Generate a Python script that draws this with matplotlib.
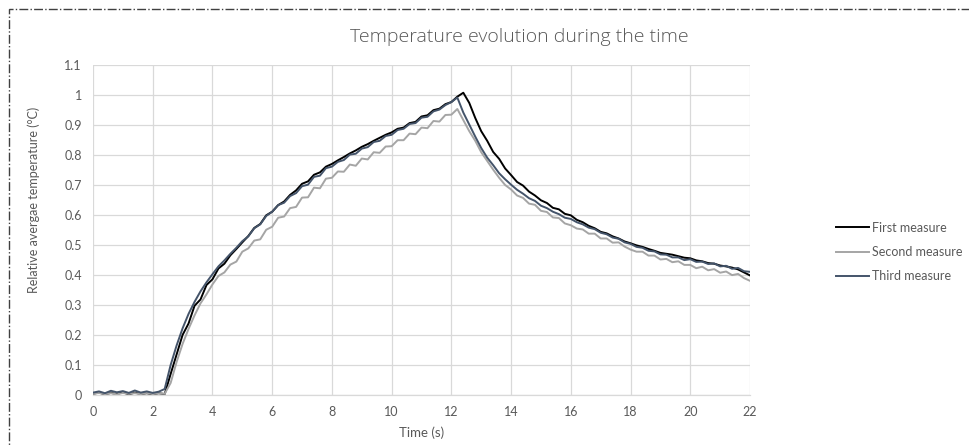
import numpy as np
import matplotlib
matplotlib.use("Agg")
import matplotlib.pyplot as plt
from matplotlib.patches import Rectangle

plt.rcParams['font.family'] = ['Lato', 'DejaVu Sans']

# ---- data ----
time_s = np.round(np.linspace(0, 22, 111), 1)

first_measure = [
    0.004, 0.008, 0.002, 0.007, 0.003, 0.009, 0.002, 0.008, 0.003, 0.006,
    0.002, 0.006, 0.003, 0.07, 0.135, 0.2, 0.238, 0.297, 0.318, 0.366,
    0.385, 0.421, 0.437, 0.465, 0.486, 0.508, 0.529, 0.556, 0.569, 0.598,
    0.61, 0.632, 0.644, 0.666, 0.681, 0.703, 0.711, 0.733, 0.741, 0.76,
    0.769, 0.781, 0.792, 0.804, 0.814, 0.826, 0.835, 0.846, 0.856, 0.866,
    0.874, 0.886, 0.89, 0.905, 0.909, 0.927, 0.931, 0.948, 0.953, 0.968,
    0.975, 0.993, 1.006, 0.972, 0.922, 0.878, 0.846, 0.809, 0.786, 0.754,
    0.732, 0.709, 0.697, 0.677, 0.664, 0.648, 0.639, 0.623, 0.618, 0.603,
    0.598, 0.583, 0.575, 0.563, 0.555, 0.543, 0.538, 0.528, 0.521, 0.511,
    0.505, 0.498, 0.493, 0.486, 0.48, 0.473, 0.47, 0.467, 0.462, 0.457,
    0.455, 0.448, 0.445, 0.439, 0.437, 0.431, 0.428, 0.424, 0.418, 0.408,
    0.398,
]

second_measure = [
    0.004, 0.007, 0.003, 0.006, 0.002, 0.007, 0.004, 0.006, 0.003, 0.007,
    0.003, 0.006, 0.004, 0.04, 0.11, 0.17, 0.22, 0.265, 0.305, 0.335,
    0.368, 0.396, 0.408, 0.434, 0.444, 0.477, 0.488, 0.514, 0.518, 0.55,
    0.56, 0.59, 0.594, 0.622, 0.626, 0.657, 0.658, 0.69, 0.688, 0.72,
    0.723, 0.744, 0.743, 0.767, 0.763, 0.787, 0.784, 0.808, 0.806, 0.827,
    0.828, 0.848, 0.848, 0.87, 0.868, 0.89, 0.888, 0.912, 0.91, 0.932,
    0.933, 0.952, 0.915, 0.878, 0.846, 0.808, 0.779, 0.75, 0.723, 0.699,
    0.684, 0.664, 0.656, 0.637, 0.633, 0.613, 0.609, 0.591, 0.589, 0.571,
    0.565, 0.554, 0.551, 0.537, 0.537, 0.521, 0.521, 0.507, 0.508, 0.494,
    0.484, 0.477, 0.477, 0.464, 0.464, 0.451, 0.453, 0.442, 0.445, 0.433,
    0.433, 0.422, 0.427, 0.415, 0.419, 0.407, 0.411, 0.399, 0.403, 0.389,
    0.38,
]

third_measure = [
    0.008, 0.012, 0.006, 0.014, 0.009, 0.013, 0.007, 0.015, 0.008, 0.012,
    0.007, 0.011, 0.02, 0.1, 0.165, 0.222, 0.27, 0.31, 0.345, 0.375,
    0.402, 0.428, 0.448, 0.47, 0.49, 0.512, 0.528, 0.555, 0.568, 0.596,
    0.61, 0.632, 0.64, 0.662, 0.672, 0.695, 0.7, 0.726, 0.73, 0.755,
    0.76, 0.776, 0.782, 0.8, 0.803, 0.82, 0.825, 0.842, 0.846, 0.862,
    0.866, 0.882, 0.886, 0.902, 0.905, 0.923, 0.926, 0.944, 0.95, 0.965,
    0.975, 0.99, 0.94, 0.9, 0.86, 0.822, 0.79, 0.765, 0.738, 0.718,
    0.7, 0.683, 0.67, 0.655, 0.646, 0.63, 0.622, 0.61, 0.602, 0.59,
    0.586, 0.575, 0.568, 0.557, 0.552, 0.54, 0.535, 0.524, 0.52, 0.508,
    0.503, 0.493, 0.49, 0.48, 0.478, 0.468, 0.467, 0.458, 0.458, 0.449,
    0.452, 0.443, 0.444, 0.436, 0.438, 0.428, 0.43, 0.42, 0.423, 0.412,
    0.41,
]

series_names = ["First measure", "Second measure", "Third measure"]
series_colors = ["#000000", "#A5A5A5", "#44546A"]
x_ticks = [0, 2, 4, 6, 8, 10, 12, 14, 16, 18, 20, 22]
y_ticks = [0, 0.1, 0.2, 0.3, 0.4, 0.5, 0.6, 0.7, 0.8, 0.9, 1.0, 1.1]
y_tick_labels = ["0", "0.1", "0.2", "0.3", "0.4", "0.5", "0.6", "0.7", "0.8", "0.9", "1", "1.1"]

# ---- figure ----
W, H = 970, 445
fig = plt.figure(figsize=(W / 100, H / 100), dpi=100)
ax = fig.add_axes([93 / W, 1 - 395 / H, (750 - 93) / W, (395 - 64.5) / H])

for vals, name, col in zip([first_measure, second_measure, third_measure], series_names, series_colors):
    ax.plot(time_s, vals, color=col, lw=1.4, label=name)

ax.set_xlim(0, 22)
ax.set_ylim(0, 1.1)
ax.set_xticks(x_ticks)
ax.set_yticks(y_ticks)
ax.set_yticklabels(y_tick_labels)
ax.grid(True, color="#D9D9D9", lw=0.9)
ax.set_axisbelow(True)
for s in ["top", "right", "left"]:
    ax.spines[s].set_visible(False)
ax.spines["bottom"].set_color("#D9D9D9")
ax.spines["bottom"].set_linewidth(0.9)
ax.tick_params(length=0, labelsize=9, colors="#595959", pad=8)

ax.set_xlabel("Time (s)", fontsize=9.5, color="#595959", labelpad=6)
ax.set_ylabel("Relative avergae temperature (°C)", fontsize=9, color="#595959")
ax.yaxis.set_label_coords((40 - 93) / (750 - 93), (395 - 200) / (395 - 64.5))

fig.text(0.535, 1 - 37 / H, "Temperature evolution during the time", ha="center", va="center",
         fontsize=14, color="#595959", family=['Open Sans', 'DejaVu Sans'], fontweight='light')

leg = ax.legend(loc="center left", bbox_to_anchor=(825 / W, 1 - 252 / H), bbox_transform=fig.transFigure,
                frameon=False, fontsize=9, handlelength=2.6, handletextpad=0.3, labelspacing=1.0)
for t in leg.get_texts():
    t.set_color("#595959")

border = Rectangle((9 / W, -0.1), 1.2, 1 - 9 / H + 0.1, transform=fig.transFigure, fill=False,
                   edgecolor="#404040", lw=1.0, linestyle="-.", clip_on=False)
fig.patches.append(border)

fig.savefig("out.png", dpi=100)
